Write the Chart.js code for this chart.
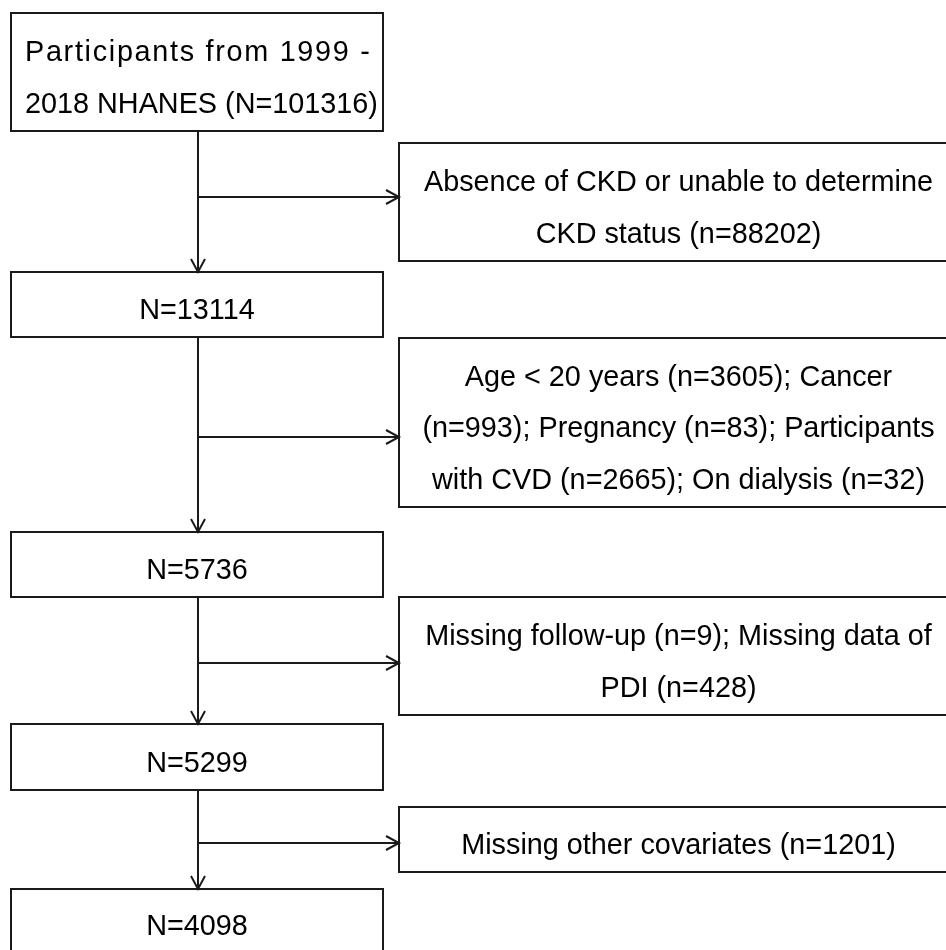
<!DOCTYPE html>
<html>
<head>
<meta charset="utf-8">
<script src="https://cdn.jsdelivr.net/npm/chart.js@4.4.1/dist/chart.umd.min.js"></script>
<style>
  html, body { margin: 0; padding: 0; background: #fff; }
  #wrap { width: 946px; height: 950px; }
</style>
</head>
<body>
<div id="wrap"><canvas id="flow-chart"></canvas></div>
<script>
// Participants remaining at each step (left column)
var mainCounts = [101316, 13114, 5736, 5299, 4098];
var mainTop    = [13, 272, 532, 724, 889];
var mainBottom = [131, 337, 597, 790, 1000];

// Exclusions at each step (right column)
var exclLabels = [
  ["Absence of CKD or unable to determine", "CKD status (n=88202)"],
  ["Age < 20 years (n=3605); Cancer", "(n=993); Pregnancy (n=83); Participants", "with CVD (n=2665); On dialysis (n=32)"],
  ["Missing follow-up (n=9); Missing data of", "PDI (n=428)"],
  ["Missing other covariates (n=1201)"]
];
var exclTop    = [143, 338, 597, 807];
var exclBottom = [261, 507, 715, 872];
var exclArrowY = [197, 437, 663, 843];

var mainLabels = mainCounts.map(function (n, i) {
    return i === 0 ? ["Participants from 1999 -", "2018 NHANES (N=" + n + ")"] : ["N=" + n];
});

var colLeft = { x0: 11, x1: 383, stem: 198 };
var colRight = { x0: 399, x1: 958 };

// connector segments as line datasets
var datasets = [];
for (var i = 0; i < mainCounts.length - 1; i++) {
    datasets.push({ data: [{x: colLeft.stem, y: mainBottom[i]}, {x: colLeft.stem, y: mainTop[i + 1]}], arrow: 'down' });
    datasets.push({ data: [{x: colLeft.stem, y: exclArrowY[i]}, {x: colRight.x0, y: exclArrowY[i]}], arrow: 'right' });
}
datasets.forEach(function (d) {
    d.showLine = true;
    d.borderColor = '#1a1a1a';
    d.borderWidth = 2;
    d.pointRadius = 0;
    d.fill = false;
});

const flowBoxes = {
    id: 'flowBoxes',
    afterDatasetsDraw(chart) {
        const {ctx, scales: {x, y}} = chart;
        ctx.save();
        ctx.strokeStyle = '#1a1a1a';
        ctx.lineWidth = 2;

        // arrow heads
        chart.data.datasets.forEach(function (d) {
            var p = d.data[1];
            var px = x.getPixelForValue(p.x), py = y.getPixelForValue(p.y);
            ctx.beginPath();
            if (d.arrow === 'down') {
                ctx.moveTo(px - 7, py - 13); ctx.lineTo(px, py); ctx.lineTo(px + 7, py - 13);
            } else {
                ctx.moveTo(px - 13, py - 7); ctx.lineTo(px, py); ctx.lineTo(px - 13, py + 7);
            }
            ctx.stroke();
        });

        function box(x0, x1, t, b, lines, opts) {
            var L = x.getPixelForValue(x0), R = x.getPixelForValue(x1);
            var T = y.getPixelForValue(t), B = y.getPixelForValue(b);
            ctx.strokeRect(L, T, R - L, B - T);
            var lh = 51.5;
            var cy = (T + B) / 2;
            if (opts && opts.cy) cy = y.getPixelForValue(opts.cy);
            ctx.fillStyle = '#000';
            ctx.font = '28.8px "Liberation Sans", Arial, sans-serif';
            ctx.textBaseline = 'middle';
            lines.forEach(function (s, k) {
                var ly = cy + (k - (lines.length - 1) / 2) * lh + 7;
                if (opts && opts.left) {
                    ctx.textAlign = 'left';
                    ctx.letterSpacing = k === 0 ? '1.7px' : '0px';
                    ctx.fillText(s, L + 14, ly);
                } else {
                    ctx.textAlign = 'center';
                    ctx.letterSpacing = '0px';
                    ctx.fillText(s, (L + R) / 2, ly);
                }
            });
        }

        mainLabels.forEach(function (lines, i) {
            var opts = i === 0 ? { left: true } : (i === mainLabels.length - 1 ? { cy: 920 } : null);
            box(colLeft.x0, colLeft.x1, mainTop[i], mainBottom[i], lines, opts);
        });
        exclLabels.forEach(function (lines, i) {
            box(colRight.x0, colRight.x1, exclTop[i], exclBottom[i], lines, null);
        });
        ctx.restore();
    }
};

new Chart(document.getElementById('flow-chart'), {
    type: 'scatter',
    data: { datasets: datasets },
    options: {
        responsive: true,
        maintainAspectRatio: false,
        animation: false,
        events: [],
        layout: { padding: 0 },
        scales: {
            x: { type: 'linear', min: 0, max: 946, display: false },
            y: { type: 'linear', min: 0, max: 950, reverse: true, display: false }
        },
        plugins: { legend: { display: false }, tooltip: { enabled: false } }
    },
    plugins: [flowBoxes]
});
</script>
</body>
</html>
